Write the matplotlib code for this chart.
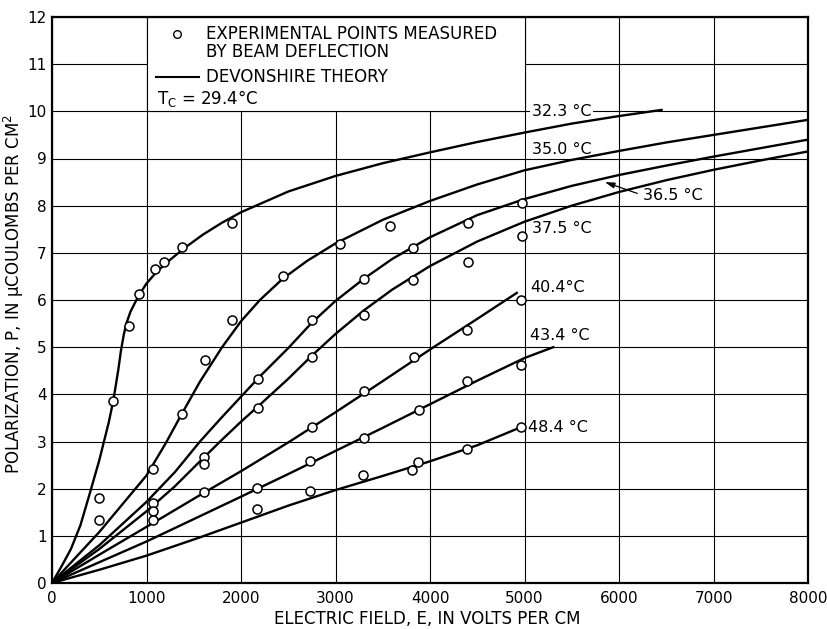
import matplotlib
matplotlib.use("Agg")
import matplotlib.pyplot as plt
from matplotlib.patches import Rectangle

plt.rcParams['font.family'] = ['DejaVu Sans']
plt.rcParams['mathtext.default'] = 'regular'

# Devonshire theory curves (E in V/cm, P in uC/cm^2)
e_323 = [0, 100, 200, 300, 400, 500, 600, 650, 700, 730, 760, 790, 830, 880, 920, 1000,
         1100, 1200, 1400, 1600, 1800, 2000, 2500, 3000, 3500, 4000, 4500, 5000, 5500,
         6000, 6450]
p_323 = [0, 0.35, 0.72, 1.22, 1.9, 2.6, 3.4, 3.88, 4.5, 4.93, 5.27, 5.52, 5.75, 5.95, 6.1,
         6.35, 6.58, 6.77, 7.1, 7.39, 7.64, 7.86, 8.3, 8.63, 8.9, 9.13, 9.35, 9.55, 9.74,
         9.9, 10.03]

e_350 = [0, 500, 1000, 1200, 1372, 1566, 1800, 2000, 2200, 2441, 2700, 3000, 3500, 4000,
         4500, 5000, 5500, 6000, 6500, 7000, 7500, 8000]
p_350 = [0, 1.08, 2.28, 2.95, 3.58, 4.27, 5.0, 5.55, 6.0, 6.45, 6.83, 7.2, 7.7, 8.1,
         8.45, 8.75, 8.97, 9.16, 9.34, 9.5, 9.66, 9.82]

e_365 = [0, 500, 1000, 1300, 1566, 1800, 2000, 2200, 2500, 2750, 3000, 3300, 3600, 4000,
         4500, 5000, 5500, 6000, 6500, 7000, 7500, 8000]
p_365 = [0, 0.8, 1.72, 2.35, 3.0, 3.52, 3.95, 4.38, 4.98, 5.52, 5.98, 6.45, 6.87, 7.33,
         7.8, 8.14, 8.42, 8.65, 8.85, 9.04, 9.22, 9.4]

e_375 = [0, 500, 1000, 1300, 1566, 1800, 2000, 2200, 2500, 2750, 3000, 3300, 3600, 4000,
         4500, 5000, 5500, 6000, 6500, 7000, 7500, 8000]
p_375 = [0, 0.72, 1.52, 2.05, 2.58, 3.04, 3.42, 3.78, 4.33, 4.82, 5.28, 5.78, 6.22, 6.72,
         7.24, 7.66, 8.0, 8.29, 8.54, 8.76, 8.96, 9.15]

e_404 = [0, 500, 1000, 1605, 2000, 2500, 3000, 3500, 4000, 4500, 4918]
p_404 = [0, 0.6, 1.19, 1.91, 2.37, 2.98, 3.62, 4.28, 4.95, 5.6, 6.15]

e_434 = [0, 500, 1000, 1569, 2000, 2500, 3000, 3500, 4000, 4500, 5000, 5305]
p_434 = [0, 0.44, 0.88, 1.42, 1.83, 2.31, 2.8, 3.29, 3.79, 4.29, 4.77, 5.0]

e_484 = [0, 500, 1000, 1569, 2000, 2500, 3000, 3500, 4000, 4500, 4958]
p_484 = [0, 0.28, 0.58, 0.97, 1.28, 1.64, 1.97, 2.27, 2.58, 2.92, 3.3]

# experimental points (beam deflection)
pts_e = [500, 500, 650, 818, 921, 1093, 1188, 1372, 1908,
         1065, 1372, 1619, 1908, 2441, 3048, 3577,
         1065, 2177, 2748, 3302, 3824, 4399, 4970,
         1065, 1605, 1605, 2177, 2748, 3302, 3824, 4399, 4970,
         1065, 1605, 2748, 3302, 3828, 4393, 4965,
         2169, 2734, 3299, 3881, 4393, 4965,
         2169, 2734, 3292, 3811, 3871, 4393, 4958]
pts_p = [1.80, 1.33, 3.85, 5.45, 6.13, 6.65, 6.81, 7.12, 7.63,
         2.41, 3.58, 4.73, 5.58, 6.5, 7.19, 7.57,
         1.69, 4.33, 5.58, 6.45, 7.1, 7.64, 8.06,
         1.52, 2.68, 2.52, 3.72, 4.80, 5.68, 6.42, 6.8, 7.35,
         1.33, 1.92, 3.30, 4.08, 4.80, 5.36, 6.0,
         2.01, 2.59, 3.07, 3.66, 4.28, 4.62,
         1.57, 1.94, 2.28, 2.40, 2.56, 2.84, 3.30]

curves = [(e_323, p_323), (e_350, p_350), (e_365, p_365), (e_375, p_375),
          (e_404, p_404), (e_434, p_434), (e_484, p_484)]

# curve labels: text, anchor E, anchor P
labels = [("32.3 °C", 5076, 10.0), ("35.0 °C", 5076, 9.19), ("37.5 °C", 5076, 7.51),
          ("40.4°C", 5058, 6.27), ("43.4 °C", 5058, 5.25), ("48.4 °C", 5040, 3.29)]

fs = 11.5
fs_leg = 12

fig = plt.figure(figsize=(8.27, 6.29), dpi=100)
ax = fig.add_axes([52 / 827, 46 / 629, 756 / 827, 566 / 629])

for e, p in curves:
    ax.plot(e, p, color='black', lw=1.7, zorder=2, solid_joinstyle='round')
ax.plot(pts_e, pts_p, 'o', ms=6.5, mfc='white', mec='black', mew=1.1, zorder=3)

ax.set_xlim(0, 8000)
ax.set_ylim(0, 12)
ax.set_xticks(range(0, 8001, 1000))
ax.set_yticks(range(0, 13))
ax.set_axisbelow(True)
ax.grid(True, color='black', lw=0.8)
ax.tick_params(axis='both', length=0, labelsize=11)
ax.tick_params(axis='y', pad=4)
ax.tick_params(axis='x', pad=6)
for s in ax.spines.values():
    s.set_linewidth(1.6)

# legend area blanks the grid
ax.add_patch(Rectangle((1000, 10), 4000, 2, facecolor='white', edgecolor='black',
                       lw=0.8, zorder=1))
ax.plot([1323], [11.64], 'o', ms=5.5, mfc='white', mec='black', mew=1.0, zorder=3)
ax.text(1630, 11.64, "EXPERIMENTAL POINTS MEASURED", fontsize=fs_leg, va='center', zorder=3)
ax.text(1630, 11.26, "BY BEAM DEFLECTION", fontsize=fs_leg, va='center', zorder=3)
ax.plot([1100, 1556], [10.73, 10.73], color='black', lw=1.5, zorder=3)
ax.text(1630, 10.73, "DEVONSHIRE THEORY", fontsize=fs_leg, va='center', zorder=3)
ax.text(1111, 10.28, "T$_C$ = 29.4°C", fontsize=fs_leg, va='center', zorder=3)

for txt, e, p in labels:
    ax.text(e, p, txt, fontsize=fs, va='center', ha='left', zorder=1.8,
            bbox=dict(facecolor='white', edgecolor='none', pad=1.0))

ax.annotate("36.5 °C", xy=(5850, 8.5), xytext=(6250, 8.22), fontsize=fs,
            va='center', ha='left', zorder=4,
            arrowprops=dict(arrowstyle='-|>,head_length=0.5,head_width=0.15',
                            color='black', lw=0.9, relpos=(0, 0.5),
                            shrinkA=2, shrinkB=0))

ax.set_xlabel("ELECTRIC FIELD, E, IN VOLTS PER CM", fontsize=12)
ax.set_ylabel("POLARIZATION, P, IN μCOULOMBS PER CM$^2$", fontsize=12)
ax.xaxis.set_label_coords(0.497, -0.048)
ax.yaxis.set_label_coords(-0.034, 0.51)

fig.savefig("out.png", dpi=100)
